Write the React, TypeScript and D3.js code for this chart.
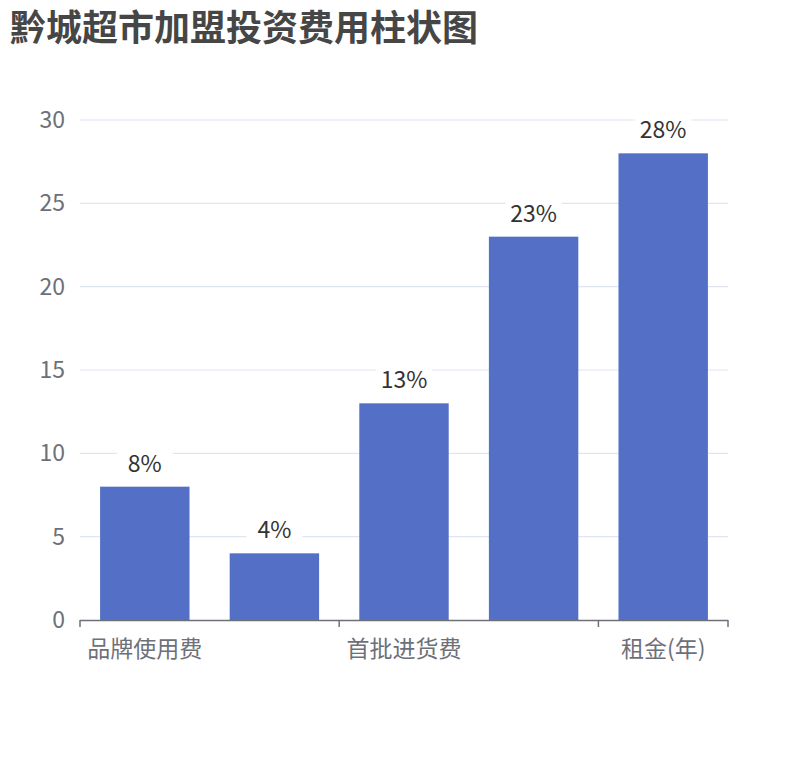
import React, { useEffect, useRef } from 'react'
import * as d3 from 'd3'

// chart data
const categories = ['品牌使用费', '保证金', '首批进货费', '装修设备费', '租金(年)']
const values = [8, 4, 13, 23, 28]
const yTicks = [0, 5, 10, 15, 20, 25, 30]
const chartTitle = '黔城超市加盟投资费用柱状图'

const FONT = '"Noto Sans CJK SC", "Noto Sans", sans-serif'

const BarChart = () => {
  const ref = useRef<SVGSVGElement>(null)

  useEffect(() => {
    const svg = d3.select(ref.current)
    svg.selectAll('*').remove()

    const width = 810
    const height = 760
    const margin = { top: 120, right: 82, bottom: 140, left: 80 }
    const innerW = width - margin.left - margin.right
    const innerH = height - margin.top - margin.bottom

    svg.append('rect').attr('width', width).attr('height', height).attr('fill', '#fff')

    svg.append('text')
      .attr('x', 10)
      .attr('y', 41)
      .attr('font-family', FONT)
      .attr('font-size', 36)
      .attr('font-weight', 'bold')
      .attr('fill', '#464646')
      .text(chartTitle)

    const x = d3.scaleBand()
      .domain(categories)
      .range([0, innerW])
      .paddingInner(0.31)
      .paddingOuter(0.155)

    const band = innerW / categories.length

    const y = d3.scaleLinear()
      .domain([0, 30])
      .range([innerH, 0])

    const g = svg.append('g')
      .attr('transform', `translate(${margin.left},${margin.top})`)

    // grid lines
    g.selectAll('.grid')
      .data(yTicks.filter(t => t !== 0))
      .enter()
      .append('line')
      .attr('x1', 0)
      .attr('x2', innerW)
      .attr('y1', d => y(d))
      .attr('y2', d => y(d))
      .attr('stroke', '#E0E6F1')
      .attr('stroke-width', 1.2)

    // y labels
    g.selectAll('.ylabel')
      .data(yTicks)
      .enter()
      .append('text')
      .attr('x', -15)
      .attr('y', d => y(d))
      .attr('dy', '0.35em')
      .attr('text-anchor', 'end')
      .attr('font-family', FONT)
      .attr('font-size', 23)
      .attr('fill', '#6E7079')
      .text(d => d)

    // bars
    g.selectAll('.bar')
      .data(values)
      .enter()
      .append('rect')
      .attr('x', (d, i) => x(categories[i])!)
      .attr('y', d => y(d))
      .attr('width', x.bandwidth())
      .attr('height', d => innerH - y(d))
      .attr('fill', '#5470c6')

    // value labels
    const labels = g.selectAll('.vlabel')
      .data(values)
      .enter()
      .append('g')
      .attr('transform', (d, i) => `translate(${x(categories[i])! + x.bandwidth() / 2},${y(d) - 23})`)

    labels.append('rect')
      .attr('x', -28)
      .attr('y', -14)
      .attr('width', 56)
      .attr('height', 28)
      .attr('fill', '#fff')

    labels.append('text')
      .attr('text-anchor', 'middle')
      .attr('dy', '0.35em')
      .attr('font-family', FONT)
      .attr('font-size', 23)
      .attr('fill', '#333')
      .text(d => `${d}%`)

    // x axis
    g.append('line')
      .attr('x1', 0)
      .attr('x2', innerW)
      .attr('y1', innerH + 0.5)
      .attr('y2', innerH + 0.5)
      .attr('stroke', '#6E7079')
      .attr('stroke-width', 1.5)

    const tickIdx = [0, 2, 4, 5]
    g.selectAll('.xtick')
      .data(tickIdx)
      .enter()
      .append('line')
      .attr('x1', d => d * band)
      .attr('x2', d => d * band)
      .attr('y1', innerH)
      .attr('y2', innerH + 7)
      .attr('stroke', '#6E7079')
      .attr('stroke-width', 1.5)

    g.selectAll('.xlabel')
      .data(categories.filter((c, i) => i % 2 === 0))
      .enter()
      .append('text')
      .attr('x', d => x(d)! + x.bandwidth() / 2)
      .attr('y', innerH + 29)
      .attr('dy', '0.35em')
      .attr('text-anchor', 'middle')
      .attr('font-family', FONT)
      .attr('font-size', 23)
      .attr('fill', '#6E7079')
      .text(d => d)
  }, [])

  return <svg ref={ref} width={810} height={760} style={{ position: 'absolute', left: 0, top: 0 }} />
}

export default function App() {
  return <BarChart />
}
